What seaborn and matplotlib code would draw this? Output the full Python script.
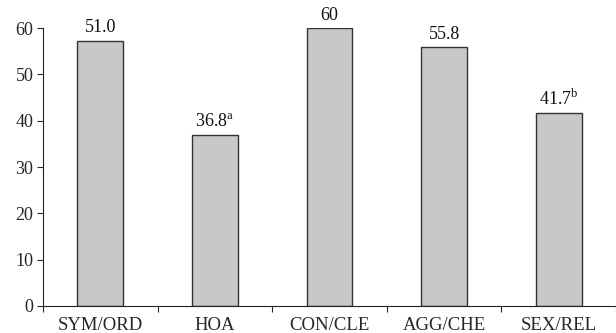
import numpy as np
import pandas as pd
import seaborn as sns
import matplotlib.pyplot as plt

# categorias y alturas de las barras
categories = ["SYM/ORD", "HOA", "CON/CLE", "AGG/CHE", "SEX/REL"]
heights = [57.3, 36.8, 60.0, 55.8, 41.7]
# etiquetas que aparecen encima de cada barra
bar_labels = ["51.0", r"36.8$^{\mathrm{a}}$", "60", "55.8", r"41.7$^{\mathrm{b}}$"]
y_ticks = [0, 10, 20, 30, 40, 50, 60]

sns.set_style("ticks")
plt.rcParams['font.family'] = ['Liberation Serif', 'DejaVu Serif']
plt.rcParams['mathtext.fontset'] = 'custom'
plt.rcParams['mathtext.rm'] = 'Liberation Serif'

df = pd.DataFrame({"cat": categories, "val": heights})

fig = plt.figure(figsize=(6.16, 3.33), dpi=100)
ax = fig.add_axes([43 / 616, 27 / 333, 573 / 616, 278 / 333])
sns.barplot(data=df, x="cat", y="val", ax=ax, color="#c8c8c8",
            edgecolor="#333333", linewidth=1.0, width=0.4, saturation=1)

for i, lab in enumerate(bar_labels):
    ax.annotate(lab, (i, heights[i]), xytext=(0, 3), textcoords="offset points",
                ha="center", va="bottom", fontsize=13, color="#111111")

ax.set_xlim(-0.5, 4.5)
ax.set_ylim(0, 60)
ax.set_yticks(y_ticks)
ax.set_xticks(np.arange(-0.5, 5, 1.0), minor=True)
ax.tick_params(axis="x", which="major", length=0, labelsize=13.5, pad=8)
ax.tick_params(axis="x", which="minor", length=4, width=0.8, direction="out")
ax.tick_params(axis="y", length=4, width=0.8, labelsize=13, pad=3)
ax.set_xlabel("")
ax.set_ylabel("")
for s in ["top", "right"]:
    ax.spines[s].set_visible(False)
for s in ["left", "bottom"]:
    ax.spines[s].set_linewidth(0.8)
    ax.spines[s].set_color("#222222")

fig.savefig("out.png", dpi=100)
